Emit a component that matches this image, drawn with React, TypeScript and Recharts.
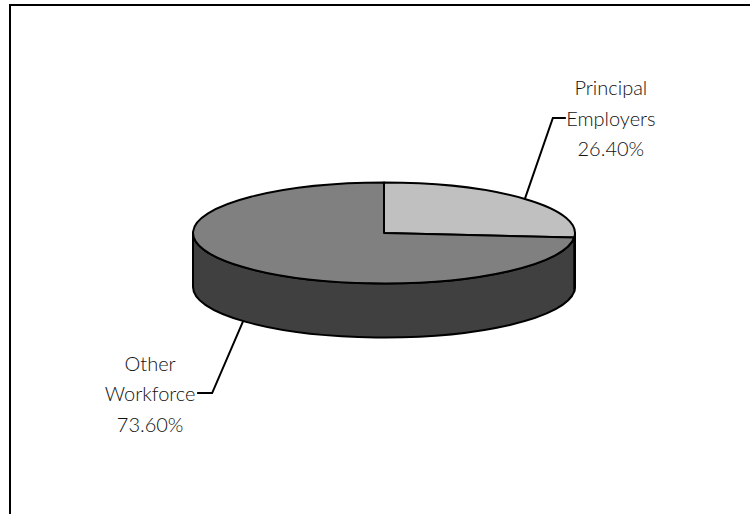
import { PieChart, Pie, Cell } from 'recharts'

const CATEGORIES = ['Principal Employers', 'Other Workforce']
const LABEL_LINES = [['Principal', 'Employers'], ['Other', 'Workforce']]
const SHARES = [26.4, 73.6]
const TOP_COLORS = ['#c0c0c0', '#808080']
const SIDE_COLORS = ['#606060', '#404040']

const TILT = 0.264 // vertical squash of the pie top
const DEPTH = 54 // thickness of the pie
const RAD = Math.PI / 180

const chartData = CATEGORIES.map((name, i) => ({ name, value: SHARES[i] }))

const ept = (cx: number, cy: number, rx: number, ry: number, a: number) =>
  [cx + rx * Math.cos(a * RAD), cy - ry * Math.sin(a * RAD)]

function Sector3D(props: any) {
  const { cx, cy, outerRadius, startAngle, endAngle, name } = props
  const rx = outerRadius
  const ry = outerRadius * TILT
  const i = CATEGORIES.indexOf(name ?? props.payload?.name)
  const [x1, y1] = ept(cx, cy, rx, ry, startAngle)
  const [x2, y2] = ept(cx, cy, rx, ry, endAngle)
  const sweep = endAngle < startAngle ? 1 : 0
  const large = Math.abs(endAngle - startAngle) > 180 ? 1 : 0
  const top = `M${cx},${cy} L${x1},${y1} A${rx},${ry} 0 ${large} ${sweep} ${x2},${y2} Z`

  // front wall: parts of the slice in the lower half of the ellipse
  const lo = Math.min(startAngle, endAngle)
  const hi = Math.max(startAngle, endAngle)
  const sides: string[] = []
  for (const k of [-360, 0, 360]) {
    const a = Math.max(lo, -180 + k)
    const b = Math.min(hi, k)
    if (b > a) {
      const [ax, ay] = ept(cx, cy, rx, ry, a)
      const [bx, by] = ept(cx, cy, rx, ry, b)
      sides.push(
        `M${ax},${ay} A${rx},${ry} 0 0 0 ${bx},${by} L${bx},${by + DEPTH} A${rx},${ry} 0 0 1 ${ax},${ay + DEPTH} Z`
      )
    }
  }

  return (
    <g>
      {sides.map((d, j) => (
        <path key={j} d={d} fill={SIDE_COLORS[i]} stroke="#000" strokeWidth={2} strokeLinejoin="round" />
      ))}
      <path d={top} fill={TOP_COLORS[i]} stroke="#000" strokeWidth={2} strokeLinejoin="round" />
    </g>
  )
}

function renderLabel(props: any) {
  const { cx, cy, midAngle, outerRadius, index, value } = props
  const rx = outerRadius
  const ry = outerRadius * TILT
  const right = Math.cos(midAngle * RAD) >= 0
  const lower = Math.sin(midAngle * RAD) < 0
  const [sx, s0] = ept(cx, cy, rx, ry, midAngle)
  const sy = lower ? s0 + DEPTH : s0
  const ex = sx + (right ? 28 : -31)
  const ey = sy + (lower ? 72 : -81)
  const tx = ex + (right ? 13 : -15)
  const mx = ex + (right ? 58 : -62)
  const base = ey + 8
  const lines = [...LABEL_LINES[index], `${Number(value).toFixed(2)}%`]
  return (
    <g>
      <polyline points={`${sx},${sy} ${ex},${ey} ${tx},${ey}`} fill="none" stroke="#000" strokeWidth={2} />
      <text x={mx} y={base} textAnchor="middle" fontFamily="Lato, sans-serif" fontWeight={300} fontSize={20} fill="#111">
        {lines.map((t, j) => (
          <tspan key={j} x={mx} y={base + (j - 1) * 30.5}>{t}</tspan>
        ))}
      </text>
    </g>
  )
}

export default function App() {
  return (
    <div style={{ position: 'fixed', left: 0, top: 0, width: 750, height: 514, overflow: 'hidden', background: '#fff' }}>
      <div style={{ position: 'absolute', left: 9, top: 4, width: 800, height: 600, border: '2px solid #000' }} />
      <div style={{ position: 'absolute', left: 0, top: 0 }}>
        <PieChart width={750} height={514} margin={{ top: 0, right: 0, bottom: 0, left: 0 }}>
          <Pie
            data={chartData}
            dataKey="value"
            nameKey="name"
            cx={384}
            cy={233}
            outerRadius={191}
            startAngle={90}
            endAngle={-270}
            shape={Sector3D}
            activeShape={Sector3D}
            inactiveShape={Sector3D}
            label={renderLabel}
            labelLine={false}
            isAnimationActive={false}
            stroke="#000"
          >
            {chartData.map((d, i) => (
              <Cell key={d.name} fill={TOP_COLORS[i]} />
            ))}
          </Pie>
        </PieChart>
      </div>
    </div>
  )
}
